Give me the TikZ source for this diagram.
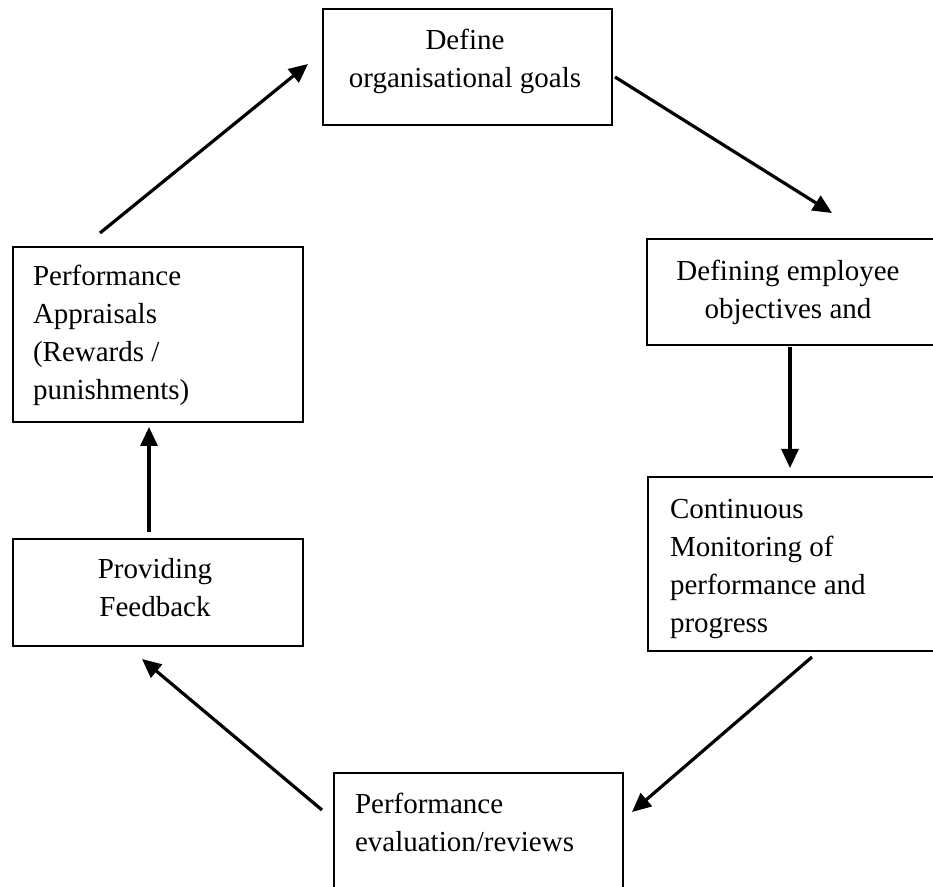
\documentclass[tikz,border=0pt]{standalone}
\usepackage{fontspec}
\setmainfont{Liberation Serif}
\usetikzlibrary{arrows.meta}
\begin{document}
\begin{tikzpicture}[x=0.5pt,y=-0.5pt,
  box/.style={draw=black,line width=0.9pt,rectangle,inner sep=0pt,outer sep=0pt},
  txt/.style={inner sep=0pt,outer sep=0pt,font=\fontsize{14.5pt}{19pt}\selectfont},
  conn/.style={line width=1.6pt,-{Triangle[length=9.5pt,width=8.5pt]}}]
\useasboundingbox (0,0) rectangle (933,887);
% boxes
\node[box,minimum width=144.5pt,minimum height=58pt] (b1) at (467.5,67) {};
\node[box,minimum width=143.5pt,minimum height=53pt] (b2) at (790.5,292) {};
\node[box,minimum width=143pt,minimum height=87pt] (b3) at (791,564) {};
\node[box,minimum width=144.5pt,minimum height=63.5pt] (b4) at (478.5,836.5) {};
\node[box,minimum width=145pt,minimum height=53.5pt] (b5) at (158,592.5) {};
\node[box,minimum width=145pt,minimum height=87.5pt] (b6) at (158,334.5) {};
% texts
\node[txt,align=center,anchor=north] (t1) at (465,29) {Define\\organisational goals};
\node[txt,align=center,anchor=north] (t2) at (788,260) {Defining employee\\objectives and};
\node[txt,align=left,anchor=north west] (t3) at (670,499) {Continuous\\Monitoring of\\performance and\\progress};
\node[txt,align=left,anchor=north west] (t4) at (355,793) {Performance\\evaluation/reviews};
\node[txt,align=center,anchor=north] (t5) at (155,558) {Providing\\Feedback};
\node[txt,align=left,anchor=north west] (t6) at (33,265) {Performance\\Appraisals\\(Rewards /\\punishments)};
% connector ends
\coordinate (a1s) at (100,233); \coordinate (a1e) at (308,64);
\coordinate (a2s) at (615,77);  \coordinate (a2e) at (832,213);
\coordinate (a3s) at (790,347); \coordinate (a3e) at (790,468);
\coordinate (a4s) at (812,657); \coordinate (a4e) at (632,812);
\coordinate (a5s) at (322,810); \coordinate (a5e) at (142,659);
\coordinate (a6s) at (149,532); \coordinate (a6e) at (149,427);
\draw[conn] (a1s) -- (a1e);
\draw[conn] (a2s) -- (a2e);
\draw[conn] (a3s) -- (a3e);
\draw[conn] (a4s) -- (a4e);
\draw[conn] (a5s) -- (a5e);
\draw[conn] (a6s) -- (a6e);
\end{tikzpicture}
\end{document}
